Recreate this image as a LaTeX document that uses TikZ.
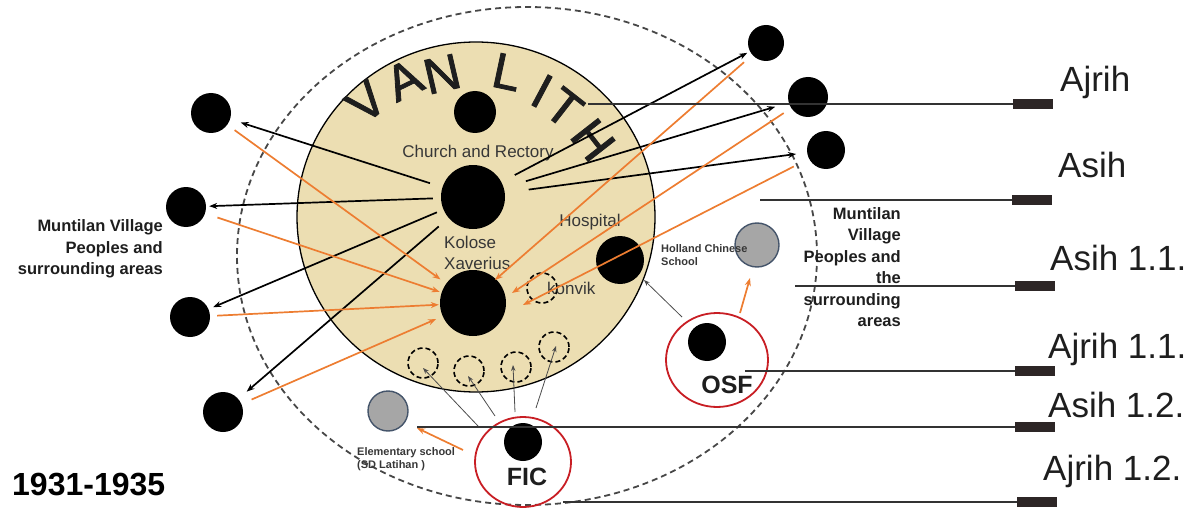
\documentclass[tikz,border=0pt]{standalone}
\usepackage{fontspec}
\setmainfont{Liberation Sans}
\newfontfamily\titlefont{Liberation Sans}[FakeBold=1.6]
\usetikzlibrary{arrows.meta,shapes.geometric}
\definecolor{beige}{RGB}{236,222,178}
\definecolor{orangeln}{RGB}{237,125,49}
\definecolor{ringred}{RGB}{200,30,36}
\definecolor{slate}{RGB}{68,84,106}
\definecolor{greyfill}{RGB}{166,166,166}
\definecolor{barcol}{RGB}{45,38,38}
\definecolor{ink}{RGB}{30,30,30}
\definecolor{softink}{RGB}{55,55,55}
\begin{document}
\begin{tikzpicture}[x=1pt,y=-1pt,
  blackdot/.style={circle,fill=black,inner sep=0pt,minimum size=#1},
  dashring/.style={circle,draw=black,dash pattern=on 5pt off 3pt,line width=1.6pt,inner sep=0pt,minimum size=30pt},
  redring/.style={ellipse,draw=ringred,line width=1.8pt,inner sep=0pt},
  school/.style={circle,draw=slate,fill=greyfill,line width=1.4pt,inner sep=0pt,minimum size=#1},
  blackarrow/.style={draw=black,line width=1.7pt,-{Stealth[length=8pt,width=6pt]}},
  orangearrow/.style={draw=orangeln,line width=1.7pt,-{Stealth[length=8pt,width=6pt]}},
  thinarrow/.style={draw=black!70,line width=0.8pt,-{Stealth[length=6pt,width=4.5pt]}},
  leader/.style={draw=black!80,line width=1.2pt},
  bar/.style={fill=barcol,minimum width=40pt,minimum height=10pt,inner sep=0pt},
  vanletter/.style={font=\titlefont\fontsize{50}{50}\selectfont,inner sep=0pt,text=ink},
  placetext/.style={font=\fontsize{17}{21}\selectfont,text=softink,inner sep=0pt},
  smallbold/.style={font=\fontsize{11}{13}\selectfont\bfseries,text=softink,inner sep=0pt,align=left},
  areatext/.style={font=\fontsize{16.5}{21.5}\selectfont\bfseries,text=ink,inner sep=0pt},
  rlabel/.style={font=\fontsize{35}{40}\selectfont,text=ink,inner sep=0pt},
  tagtext/.style={font=\fontsize{25}{25}\selectfont\bfseries,text=ink,inner sep=0pt}
]
\useasboundingbox (0,0) rectangle (1202,508);

% outer dashed boundary and the beige compound
\draw[draw=black!72,line width=1.8pt,dash pattern=on 6pt off 4pt] (527,256) ellipse [x radius=290pt,y radius=249pt];
\draw[fill=beige,line width=1.3pt] (476,217) ellipse [x radius=179pt,y radius=175pt];

% curved title
\node[vanletter,rotate=40] (lV) at (366,102) {V};
\node[vanletter,rotate=26] (lA) at (404,80) {A};
\node[vanletter,rotate=13] (lN) at (442,74) {N};
\node[vanletter,rotate=-12] (lL) at (507,72) {L};
\node[vanletter,rotate=-28] (lI) at (542,91) {I};
\node[vanletter,rotate=-38] (lT) at (564,108) {T};
\node[vanletter,rotate=-52] (lH) at (593,140) {H};

% buildings inside the compound
\node[blackdot=42pt] (topdot) at (475,112) {};
\node[blackdot=64pt] (church) at (473,197) {};
\node[blackdot=66pt] (kolose) at (473,303) {};
\node[blackdot=48pt] (hospital) at (620,260) {};
\node[dashring] (konvik) at (542,288) {};
\node[dashring] (d1) at (423,363) {};
\node[dashring] (d2) at (469,371) {};
\node[dashring] (d3) at (516,367) {};
\node[dashring] (d4) at (554,347) {};

\node[placetext] (churchlbl) at (478,153) {Church and Rectory};
\node[placetext,align=left,anchor=west] (kololbl) at (444,253) {Kolose\\Xaverius};
\node[placetext] (hosplbl) at (590,222) {Hospital};
\node[placetext,anchor=west] (konviklbl) at (547,288) {konvik};

% surrounding villages
\node[blackdot=40pt] (L1) at (211,113) {};
\node[blackdot=40pt] (L2) at (186,207) {};
\node[blackdot=40pt] (L3) at (190,317) {};
\node[blackdot=40pt] (L4) at (223,412) {};
\node[blackdot=36pt] (R1) at (766,43) {};
\node[blackdot=40pt] (R2) at (808,97) {};
\node[blackdot=38pt] (R3) at (826,150) {};

% congregations and their schools
\node[redring,minimum width=102pt,minimum height=94pt] (osf) at (717,360) {};
\node[blackdot=38pt] (osfdot) at (707,342) {};
\node[tagtext] (osflbl) at (727,385) {OSF};
\node[redring,minimum width=96pt,minimum height=90pt] (fic) at (523,462) {};
\node[blackdot=38pt] (ficdot) at (523,442) {};
\node[tagtext] (ficlbl) at (527,477) {FIC};
\node[school=44pt] (hcs) at (757,245) {};
\node[school=40pt] (es) at (388,411) {};
\node[smallbold,anchor=north west] (hcslbl) at (661,244) {Holland Chinese\\School};
\node[smallbold,anchor=north west] (eslbl) at (357,447) {Elementary school\\(SD Latihan )};

% area captions
\node[areatext,align=right,anchor=east] (leftarea) at (163,249) {Muntilan Village\\Peoples and\\surrounding areas};
\node[areatext,align=right,anchor=east] (rightarea) at (901,267) {Muntilan\\Village\\Peoples and\\the\\surrounding\\areas};
\node[font=\fontsize{32}{32}\selectfont\bfseries,text=black,inner sep=0pt,anchor=base west] (years) at (12,495) {1931-1935};

% outgoing links from the church
\draw[blackarrow,shorten <=13pt,shorten >=11pt] (church) -- (L1);
\draw[blackarrow,shorten <=8pt,shorten >=3pt] (church) -- (L2);
\draw[blackarrow,shorten <=7pt,shorten >=5pt] (church) -- (L3);
\draw[blackarrow,shorten <=13pt,shorten >=11pt] (church) -- (L4);
\draw[blackarrow,shorten <=15pt,shorten >=3pt] (church) -- (R1);
\draw[blackarrow,shorten <=23pt,shorten >=14pt] (church) -- (R2);
\draw[blackarrow,shorten <=24pt,shorten >=11pt] (church) -- (R3);

% incoming links to the college
\draw[orangearrow,shorten <=9pt,shorten >=7pt] (L1) -- (kolose);
\draw[orangearrow,shorten <=13pt,shorten >=2pt] (L2) -- (kolose);
\draw[orangearrow,shorten <=7pt,shorten >=1pt] (L3) -- (kolose);
\draw[orangearrow,shorten <=11pt,shorten >=7pt] (L4) -- (kolose);
\draw[orangearrow,shorten <=11pt] (R1) -- ([xshift=22pt,yshift=23pt]kolose.center);
\draw[orangearrow,shorten <=9pt] (R2) -- ([xshift=39pt,yshift=10pt]kolose.center);
\draw[orangearrow,shorten <=17pt] (R3) -- ([xshift=50pt,yshift=-2pt]kolose.center);
\draw[orangearrow] ([xshift=23pt,yshift=47pt]osf.center) -- ([xshift=-7pt,yshift=-33pt]hcs.center);
\draw[orangearrow] ([xshift=-60pt,yshift=12pt]fic.center) -- ([xshift=29pt,yshift=-17pt]es.center);

% thin service links
\draw[thinarrow] ([xshift=-35pt,yshift=43pt]osf.center) -- ([xshift=24pt,yshift=-20pt]hospital.center);
\draw[thinarrow] ([xshift=-45pt,yshift=36pt]fic.center) -- ([yshift=-5pt]d1.center);
\draw[thinarrow] ([xshift=-28pt,yshift=46pt]fic.center) -- ([xshift=-1pt,yshift=-5pt]d2.center);
\draw[thinarrow] ([xshift=-8pt,yshift=50pt]fic.center) -- ([xshift=-3pt,yshift=2pt]d3.center);
\draw[thinarrow] ([xshift=13pt,yshift=54pt]fic.center) -- ([xshift=2pt,yshift=1pt]d4.center);

% leader lines to the legend bars
\node[bar] (bar1) at (1033,104) {};
\node[bar] (bar2) at (1032,200) {};
\node[bar] (bar3) at (1035,286) {};
\node[bar] (bar4) at (1035,371) {};
\node[bar] (bar5) at (1035,427) {};
\node[bar] (bar6) at (1037,502) {};
\coordinate (s1) at (588,104);
\coordinate (s2) at (760,200);
\coordinate (s3) at (795,286);
\coordinate (s4) at (745,371);
\coordinate (s5) at (417,427);
\coordinate (s6) at (563,502);
\draw[leader] (s1) -- (bar1.west);
\draw[leader] (s2) -- (bar2.west);
\draw[leader] (s3) -- (bar3.west);
\draw[leader] (s4) -- (bar4.west);
\draw[leader] (s5) -- (bar5.west);
\draw[leader] (s6) -- (bar6.west);

\node[rlabel,anchor=base west] (t1) at (1060,92) {Ajrih};
\node[rlabel,anchor=base west] (t2) at (1058,178) {Asih};
\node[rlabel,anchor=base west] (t3) at (1050,270) {Asih 1.1.};
\node[rlabel,anchor=base west] (t4) at (1048,358) {Ajrih 1.1.};
\node[rlabel,anchor=base west] (t5) at (1048,417) {Asih 1.2.};
\node[rlabel,anchor=base west] (t6) at (1043,480) {Ajrih 1.2.};
\end{tikzpicture}
\end{document}
